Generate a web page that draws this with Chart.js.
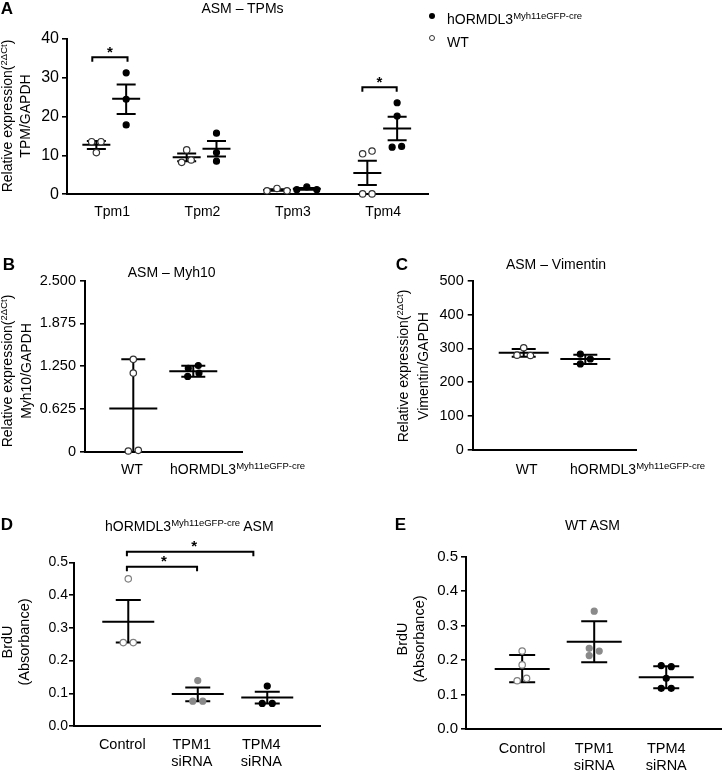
<!DOCTYPE html>
<html><head><meta charset="utf-8">
<script src="https://cdn.jsdelivr.net/npm/chart.js@4/dist/chart.umd.min.js"></script>
<style>
html,body{margin:0;padding:0;background:#fff;}
#stage{position:relative;width:726px;height:771px;overflow:hidden;background:#fff;font-family:"Liberation Sans",Arial,Helvetica,sans-serif;color:#000;}
#stage canvas{position:absolute;left:0;top:0;}
.lbl{position:absolute;white-space:nowrap;line-height:1;font-size:14px;}
.s{font-size:9.5px;position:relative;top:-4.6px;}
.mk{position:absolute;border-radius:50%;box-sizing:border-box;}
</style></head>
<body><div id="stage"></div>
<script>
// ================= DATA =================
// Panel A: ASM – TPMs
const tpmCategories = ['Tpm1', 'Tpm2', 'Tpm3', 'Tpm4'];
const tpmTicks = [0, 10, 20, 30, 40];
const tpmWT = [[13.5, 13.5, 10.7], [8.2, 11.4, 8.8], [0.9, 1.5, 0.9], [10.4, 11.1, 0.1, 0.1]];
const tpmWTMean = [12.7, 9.5, 1.1, 5.5];
const tpmWTLow = [11.6, 8.5, 0.9, 2.4];
const tpmWTHigh = [13.7, 10.5, 1.3, 8.6];
const tpmHO = [[31.2, 24.4, 17.8], [15.7, 10.7, 8.5], [1.2, 1.9, 1.2], [23.5, 20.1, 12.1, 12.3]];
const tpmHOMean = [24.5, 11.7, 1.4, 16.9];
const tpmHOLow = [20.6, 9.7, 1.2, 13.9];
const tpmHOHigh = [28.2, 13.7, 1.6, 19.9];

// Panel B: ASM – Myh10
const myh10Ticks = [0, 0.625, 1.25, 1.875, 2.5];
const myh10TickLabels = ['0', '0.625', '1.250', '1.875', '2.500'];
const myh10WT = [1.35, 1.15, 0.01, 0.02];
const myh10HO = [1.10, 1.22, 1.26, 1.15];
const myh10Mean = [0.63, 1.175];
const myh10Low = [-0.09, 1.097];
const myh10High = [1.35, 1.257];

// Panel C: ASM – Vimentin
const vimTicks = [0, 100, 200, 300, 400, 500];
const vimWT = [302, 280, 279];
const vimHO = [283, 268.5, 254];
const vimMean = [287, 268.5];
const vimLow = [275, 254];
const vimHigh = [298, 281];

// Panels D/E: BrdU
const siCategories = ['Control', ['TPM1', 'siRNA'], ['TPM4', 'siRNA']];
const brduTicks = [0, 0.1, 0.2, 0.3, 0.4, 0.5];
const brduTickLabels = ['0.0', '0.1', '0.2', '0.3', '0.4', '0.5'];
const dControl = [0.450, 0.255, 0.255];
const dTPM1 = [0.139, 0.076, 0.076];
const dTPM4 = [0.122, 0.069, 0.069];
const dMean = [0.319, 0.098, 0.087];
const dLow = [0.255, 0.076, 0.069];
const dHigh = [0.385, 0.118, 0.105];
const eControl = [0.226, 0.186, 0.140, 0.147];
const eTPM1 = [0.342, 0.234, 0.226, 0.213];
const eTPM4 = [0.184, 0.181, 0.147, 0.118, 0.118];
const eMean = [0.174, 0.253, 0.150];
const eLow = [0.136, 0.194, 0.118];
const eHigh = [0.215, 0.313, 0.182];

// ================= LAYOUT (positions / styles) =================
const FONT = '"Liberation Sans", Arial, Helvetica, sans-serif';
Chart.defaults.font.family = FONT;
Chart.defaults.color = '#000';
const offWT = -0.175, offHO = 0.155;      // dodge of the two genotypes within a category (axis units)
const jitA_WT = [[-4.7, 4.7, 0], [-5, 0, 4.5], [-10, 0, 10], [-4.7, 4.7, -4.7, 4.7]];
const jitA_HO = [[0, 0, 0], [0, 0, 0], [-10, 0, 10], [0, 0, -5, 4.5]];
const jitB_WT = [0, 0, -5, 5], jitB_HO = [-5.6, -5, 5, 5.7];
const jitC_WT = [0, -6.7, 6.7], jitC_HO = [-5, 5, -5];
const jitD = [0, -5, 5];
const jitE = [[0, 0, -5, 4.4], [0, -5, 5, -5], [-5, 5, 0, -5, 5]];

const stage = document.getElementById('stage');

function errPlugin(groups, meanHalf, capHalf) {
  return {
    id: 'errbars',
    beforeDatasetsDraw(chart) {
      const {ctx, scales: {x, y}, chartArea} = chart;
      ctx.save();
      ctx.strokeStyle = '#000'; ctx.lineWidth = 2; ctx.lineCap = 'butt';
      groups.forEach(g => {
        const px = x.getPixelForValue(g.x);
        const ym = y.getPixelForValue(g.mean);
        const clipped = g.lo < y.min;
        const yl = clipped ? chartArea.bottom : y.getPixelForValue(g.lo);
        const yh = y.getPixelForValue(g.hi);
        ctx.beginPath();
        ctx.moveTo(px - meanHalf, ym); ctx.lineTo(px + meanHalf, ym);
        ctx.moveTo(px, yl); ctx.lineTo(px, yh);
        ctx.moveTo(px - capHalf, yh); ctx.lineTo(px + capHalf, yh);
        if (!clipped) { ctx.moveTo(px - capHalf, yl); ctx.lineTo(px + capHalf, yl); }
        ctx.stroke();
      });
      ctx.restore();
    }
  };
}

function bracketPlugin(brackets) {
  return {
    id: 'brackets',
    afterDatasetsDraw(chart) {
      const {ctx, scales: {x, y}} = chart;
      ctx.save();
      ctx.strokeStyle = '#000'; ctx.lineWidth = 2; ctx.fillStyle = '#000';
      ctx.font = 'bold 15px ' + FONT; ctx.textAlign = 'center'; ctx.textBaseline = 'alphabetic';
      brackets.forEach(b => {
        const x1 = x.getPixelForValue(b.x1), x2 = x.getPixelForValue(b.x2), yy = y.getPixelForValue(b.y);
        ctx.beginPath();
        ctx.moveTo(x1, yy + 4.5); ctx.lineTo(x1, yy); ctx.lineTo(x2, yy); ctx.lineTo(x2, yy + 4.5);
        ctx.stroke();
        ctx.fillText('*', (x1 + x2) / 2 + (b.dx || 0), yy - 9 + 8.6);
      });
      ctx.restore();
    }
  };
}

function makeChart(spec) {
  const cv = document.createElement('canvas');
  cv.width = 726; cv.height = 771;
  stage.appendChild(cv);
  const unit = (spec.R - spec.L) / (spec.xmax - spec.xmin);
  const datasets = spec.series.map(s => ({
    data: s.groups.flatMap(g => g.values.map((v, k) => ({x: g.x + (g.jitter[k] || 0) / unit, y: v}))),
    pointRadius: s.r || 3.2, pointHoverRadius: s.r || 3.2,
    pointBackgroundColor: s.fill, pointBorderColor: s.stroke, pointBorderWidth: s.bw || 1.2,
    showLine: false, clip: false
  }));
  return new Chart(cv, {
    type: 'scatter',
    data: {datasets},
    options: {
      responsive: false, animation: false, events: [],
      layout: {autoPadding: false, padding: {left: 0, top: spec.T, right: 726 - spec.R, bottom: 0}},
      plugins: {legend: {display: false}, tooltip: {enabled: false}, title: {display: false}},
      scales: {
        x: {
          type: 'linear', min: spec.xmin, max: spec.xmax,
          grid: {display: false, drawTicks: false},
          border: {display: true, color: '#000', width: 2},
          ticks: {
            display: !!spec.xLabels, padding: spec.xPad || 9, maxRotation: 0, minRotation: 0, autoSkip: false,
            labelOffset: spec.xLabelOffset || 0,
            font: {size: spec.xFont || 14, lineHeight: 1.2}, color: '#000',
            callback: (v, i) => spec.xLabels ? spec.xLabels[i] : ''
          },
          afterBuildTicks: s => { s.ticks = spec.xTickVals.map(v => ({value: v})); },
          afterFit: s => { s.height = 771 - spec.B; s.paddingLeft = 0; s.paddingRight = 0; }
        },
        y: {
          type: 'linear', min: spec.ymin, max: spec.ymax,
          grid: {display: true, drawOnChartArea: false, drawTicks: true, tickLength: 5, color: '#000', tickColor: '#000', tickWidth: 1.6, lineWidth: 1.6},
          border: {display: true, color: '#000', width: 2},
          ticks: {
            padding: spec.yPad, autoSkip: false, font: {size: spec.yFont}, color: '#000',
            callback: (v, i) => spec.yLabels[i]
          },
          afterBuildTicks: s => { s.ticks = spec.yTicks.map(v => ({value: v})); },
          afterFit: s => { s.width = spec.L; s.paddingTop = 0; s.paddingBottom = 0; }
        }
      }
    },
    plugins: [errPlugin(spec.err, spec.meanHalf, spec.capHalf), bracketPlugin(spec.brackets || [])]
  });
}

// ---------- Panel A ----------
makeChart({
  L: 67, T: 38.5, R: 428.3, B: 194.3, xmin: -0.5, xmax: 3.5, ymin: 0, ymax: 40,
  yTicks: tpmTicks, yLabels: tpmTicks.map(String), yFont: 16, yPad: 3,
  xTickVals: tpmCategories.map((c, i) => i), xLabels: tpmCategories, xFont: 14, xPad: 9,
  series: [
    {fill: '#fff', stroke: '#333', groups: tpmCategories.map((c, i) => ({x: i + offWT, values: tpmWT[i], jitter: jitA_WT[i]}))},
    {fill: '#000', stroke: '#000', r: 3, groups: tpmCategories.map((c, i) => ({x: i + offHO, values: tpmHO[i], jitter: jitA_HO[i]}))}
  ],
  err: tpmCategories.flatMap((c, i) => [
    {x: i + offWT, mean: tpmWTMean[i], lo: tpmWTLow[i], hi: tpmWTHigh[i]},
    {x: i + offHO, mean: tpmHOMean[i], lo: tpmHOLow[i], hi: tpmHOHigh[i]}
  ]),
  meanHalf: 14, capHalf: 9.5,
  brackets: [{x1: -0.22, x2: 0.17, y: 35.2}, {x1: 2.77, x2: 3.15, y: 27.5}]
});

// ---------- Panel B ----------
makeChart({
  L: 85, T: 280.7, R: 242, B: 451.7, xmin: -0.805, xmax: 1.812, ymin: 0, ymax: 2.5,
  yTicks: myh10Ticks, yLabels: myh10TickLabels, yFont: 14.5, yPad: 4,
  xTickVals: [0, 1], xLabels: null,
  series: [
    {fill: '#fff', stroke: '#333', groups: [{x: 0, values: myh10WT, jitter: jitB_WT}]},
    {fill: '#000', stroke: '#000', r: 3, groups: [{x: 1, values: myh10HO, jitter: jitB_HO}]}
  ],
  err: [0, 1].map(i => ({x: i, mean: myh10Mean[i], lo: myh10Low[i], hi: myh10High[i]})),
  meanHalf: 24, capHalf: 12
});

// ---------- Panel C ----------
makeChart({
  L: 472.7, T: 281, R: 636.7, B: 449.5, xmin: -0.828, xmax: 1.834, ymin: 0, ymax: 500,
  yTicks: vimTicks, yLabels: vimTicks.map(String), yFont: 14.5, yPad: 4,
  xTickVals: [0, 1], xLabels: null,
  series: [
    {fill: '#fff', stroke: '#333', groups: [{x: 0, values: vimWT, jitter: jitC_WT}]},
    {fill: '#000', stroke: '#000', r: 3, groups: [{x: 1, values: vimHO, jitter: jitC_HO}]}
  ],
  err: [0, 1].map(i => ({x: i, mean: vimMean[i], lo: vimLow[i], hi: vimHigh[i]})),
  meanHalf: 25, capHalf: 12
});

// ---------- Panel D ----------
makeChart({
  L: 74, T: 562.5, R: 320, B: 726, xmin: -0.781, xmax: 2.759, ymin: 0, ymax: 0.5,
  yTicks: brduTicks, yLabels: brduTickLabels, yFont: 14, yPad: 1,
  xTickVals: [0, 1, 2], xLabels: siCategories, xFont: 14.5, xPad: 10.3, xLabelOffset: -6,
  series: [
    {fill: '#fff', stroke: '#808080', groups: [{x: 0, values: dControl, jitter: jitD}]},
    {fill: '#8a8a8a', stroke: '#8a8a8a', r: 3, groups: [{x: 1, values: dTPM1, jitter: jitD}]},
    {fill: '#000', stroke: '#000', r: 3, groups: [{x: 2, values: dTPM4, jitter: jitD}]}
  ],
  err: [0, 1, 2].map(i => ({x: i, mean: dMean[i], lo: dLow[i], hi: dHigh[i]})),
  meanHalf: 26, capHalf: 12.5,
  brackets: [{x1: -0.02, x2: 1.8, y: 0.533, dx: 4}, {x1: -0.02, x2: 0.99, y: 0.487, dx: 2}]
});

// ---------- Panel E ----------
makeChart({
  L: 466, T: 556.7, R: 721.7, B: 729, xmin: -0.78, xmax: 2.77, ymin: 0, ymax: 0.5,
  yTicks: brduTicks, yLabels: brduTickLabels, yFont: 15, yPad: 3,
  xTickVals: [0, 1, 2], xLabels: siCategories, xFont: 14.5, xPad: 11.3,
  series: [
    {fill: '#fff', stroke: '#808080', groups: [{x: 0, values: eControl, jitter: jitE[0]}]},
    {fill: '#8a8a8a', stroke: '#8a8a8a', r: 3, groups: [{x: 1, values: eTPM1, jitter: jitE[1]}]},
    {fill: '#000', stroke: '#000', r: 3, groups: [{x: 2, values: eTPM4, jitter: jitE[2]}]}
  ],
  err: [0, 1, 2].map(i => ({x: i, mean: eMean[i], lo: eLow[i], hi: eHigh[i]})),
  meanHalf: 27.5, capHalf: 13
});

// ================= TEXT OVERLAYS =================
function txt(html, x, y, o = {}) {
  const d = document.createElement('div');
  d.className = 'lbl';
  d.innerHTML = html;
  d.style.left = x + 'px'; d.style.top = y + 'px';
  if (o.size) d.style.fontSize = o.size + 'px';
  if (o.bold) d.style.fontWeight = 'bold';
  if (o.lh) d.style.lineHeight = o.lh + 'px';
  if (o.rot) { d.style.textAlign = 'center'; d.style.transform = 'translate(-50%,-50%) rotate(-90deg)'; }
  else if (o.left) d.style.transform = 'translate(0,-50%)';
  else d.style.transform = 'translate(-50%,-50%)';
  stage.appendChild(d);
  return d;
}
const HO = 'hORMDL3<span class="s">Myh11eGFP-cre</span>';
const REL = 'Relative expression(<span class="s">2ΔCt</span>)';

// panel letters
txt('A', 7, 8, {bold: true, size: 17});
txt('B', 9, 264, {bold: true, size: 17});
txt('C', 402, 264, {bold: true, size: 17});
txt('D', 7, 524, {bold: true, size: 17});
txt('E', 400.5, 524, {bold: true, size: 17});

// titles
txt('ASM – TPMs', 242.5, 7.5);
txt('ASM – Myh10', 171.7, 272);
txt('ASM – Vimentin', 556, 264);
txt(HO + ' ASM', 105, 525.7, {left: true});
txt('WT ASM', 592.5, 525);

// y-axis titles
txt(REL + '<br>TPM/GAPDH', 15.8, 116, {rot: true, lh: 16});
txt(REL + '<br>Myh10/GAPDH', 16.3, 371, {rot: true, lh: 16.5});
txt(REL + '<br>Vimentin/GAPDH', 413, 366, {rot: true, lh: 18});
txt('BrdU<br>(Absorbance)', 16, 642, {rot: true, lh: 17, size: 14.5});
txt('BrdU<br>(Absorbance)', 411, 639, {rot: true, lh: 17, size: 14.5});

// x category labels for B and C
txt('WT', 132, 469);
txt(HO, 170, 469, {left: true});
txt('WT', 526.7, 469);
txt(HO, 570, 469, {left: true});

// legend
function mk(x, y, d, fill, border) {
  const m = document.createElement('div');
  m.className = 'mk';
  m.style.left = (x - d / 2) + 'px'; m.style.top = (y - d / 2) + 'px';
  m.style.width = d + 'px'; m.style.height = d + 'px';
  m.style.background = fill;
  if (border) m.style.border = border;
  stage.appendChild(m);
}
mk(432, 16, 6, '#000');
mk(432, 38, 6.6, '#fff', '1.2px solid #333');
txt(HO, 447, 18.5, {left: true});
txt('WT', 447, 41.5, {left: true});
</script>
</body></html>
